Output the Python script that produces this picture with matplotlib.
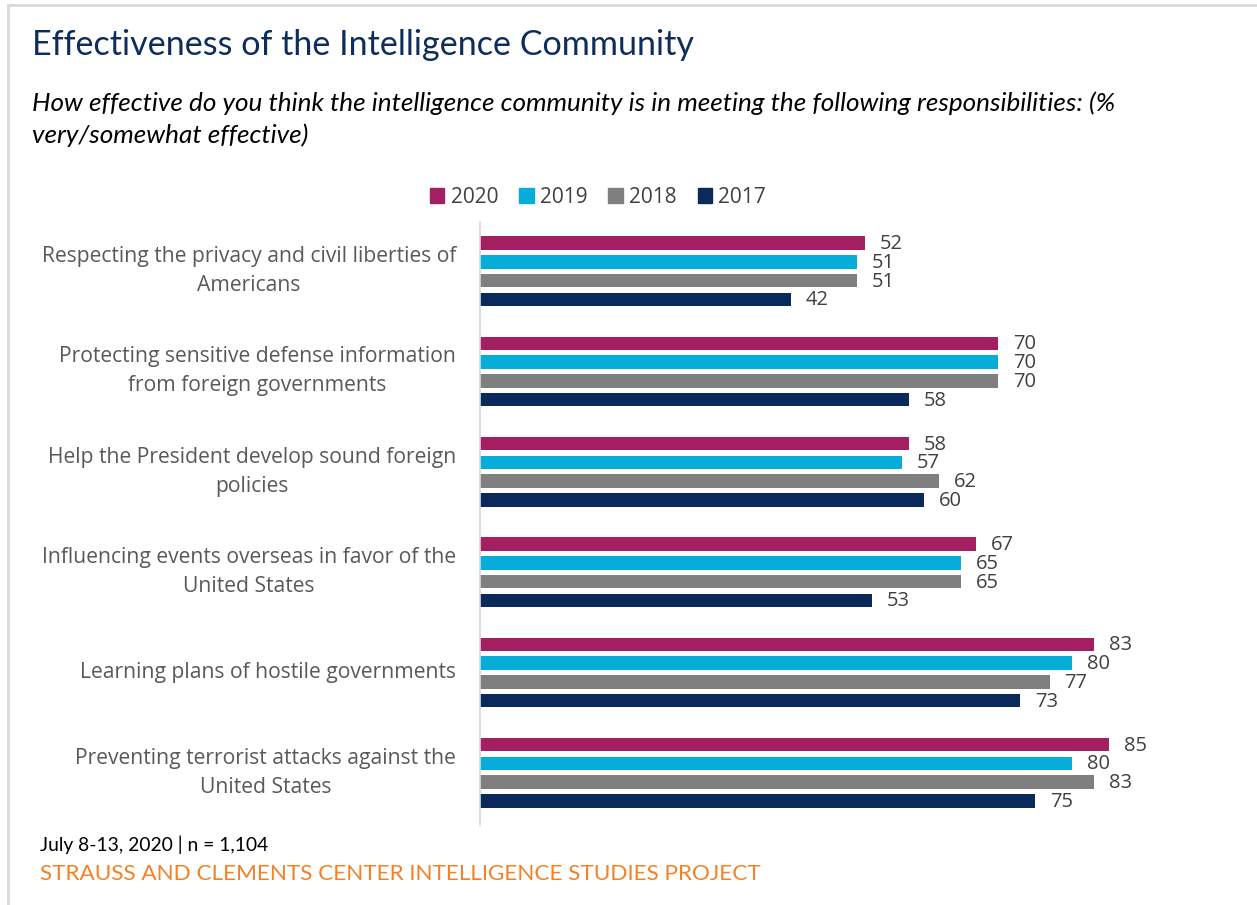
import matplotlib
matplotlib.use("Agg")
import matplotlib.pyplot as plt
import numpy as np
from matplotlib.patches import Rectangle
from matplotlib.lines import Line2D
from matplotlib.transforms import blended_transform_factory

categories = [
    "Respecting the privacy and civil liberties of\nAmericans",
    "Protecting sensitive defense information\nfrom foreign governments",
    "Help the President develop sound foreign\npolicies",
    "Influencing events overseas in favor of the\nUnited States",
    "Learning plans of hostile governments",
    "Preventing terrorist attacks against the\nUnited States",
]
years = ["2020", "2019", "2018", "2017"]
v2020 = [52, 70, 58, 67, 83, 85]
v2019 = [51, 70, 57, 65, 80, 80]
v2018 = [51, 70, 62, 65, 77, 83]
v2017 = [42, 58, 60, 53, 73, 75]
series = [v2020, v2019, v2018, v2017]
colors = ["#A41F62", "#05ADD8", "#7F7F7F", "#0A2A5C"]

plt.rcParams['font.family'] = ['Lato', 'DejaVu Sans']
W, H = 1257, 905
fig = plt.figure(figsize=(W / 100, H / 100), dpi=100)

# frame
fig.add_artist(Line2D([8 / W, 8 / W], [0, 1 - 5 / H], transform=fig.transFigure, color="#D9D9D9", lw=2))
fig.add_artist(Line2D([8 / W, 1], [1 - 5 / H, 1 - 5 / H], transform=fig.transFigure, color="#D9D9D9", lw=2))

x0, x1 = 480, 1200
ax = fig.add_axes([x0 / W, 1 - 825 / H, (x1 - x0) / W, (825 - 222) / H])
xmax = (x1 - x0) / 7.4
ax.set_xlim(0, xmax)
ax.set_ylim(5.52, -0.49)

offsets = np.array([-1.5, -0.5, 0.5, 1.5]) * 0.187
y = np.arange(len(categories))
for s, vals, c, off in zip(years, series, colors, offsets):
    ax.barh(y + off, vals, height=0.135, color=c, label=s)
    for yi, v in zip(y, vals):
        ax.text(v + 2.0, yi + off + 0.01, str(v), va="center", ha="left",
                fontsize=14.5, color="#404040", family=["Open Sans", "DejaVu Sans"])

for sp in ["top", "right", "bottom"]:
    ax.spines[sp].set_visible(False)
ax.spines["left"].set_color("#D9D9D9")
ax.spines["left"].set_linewidth(1.2)
ax.set_xticks([])
ax.set_yticks([])

tr = blended_transform_factory(fig.transFigure, ax.transData)
for yi, cat in zip(y, categories):
    ax.text(456 / W, yi, cat, transform=tr, ha="right", va="center", multialignment="center",
            fontsize=15.2, color="#595959", linespacing=1.5, family=["Open Sans", "DejaVu Sans"])

handles = [Rectangle((0, 0), 1, 1, color=c) for c in colors]
fig.legend(handles, years, loc="center", bbox_to_anchor=(598 / W, 1 - 197 / H), ncol=4,
           frameon=False, prop={"family": ["Open Sans", "DejaVu Sans"], "size": 15},
           handlelength=0.7, handleheight=0.7,
           handletextpad=0.3, columnspacing=1.0, labelcolor="#404040")

fig.text(32 / W, 1 - 45 / H, "Effectiveness of the Intelligence Community", fontsize=24.6,
         color="#0F2D5C", va="center", ha="left")
fig.text(32 / W, 1 - 103 / H,
         "How effective do you think the intelligence community is in meeting the following responsibilities: (%",
         fontsize=18.8, style="italic", color="#000000", va="center", ha="left")
fig.text(32 / W, 1 - 135 / H, "very/somewhat effective)",
         fontsize=18.8, style="italic", color="#000000", va="center", ha="left")
fig.text(40 / W, 1 - 845 / H, "July 8-13, 2020 | n = 1,104", fontsize=13.9, color="#000000",
         va="center", ha="left")
fig.text(40 / W, 1 - 874 / H, "STRAUSS AND CLEMENTS CENTER INTELLIGENCE STUDIES PROJECT",
         fontsize=16.2, color="#F58025", va="center", ha="left")

fig.savefig("out.png", dpi=100)
